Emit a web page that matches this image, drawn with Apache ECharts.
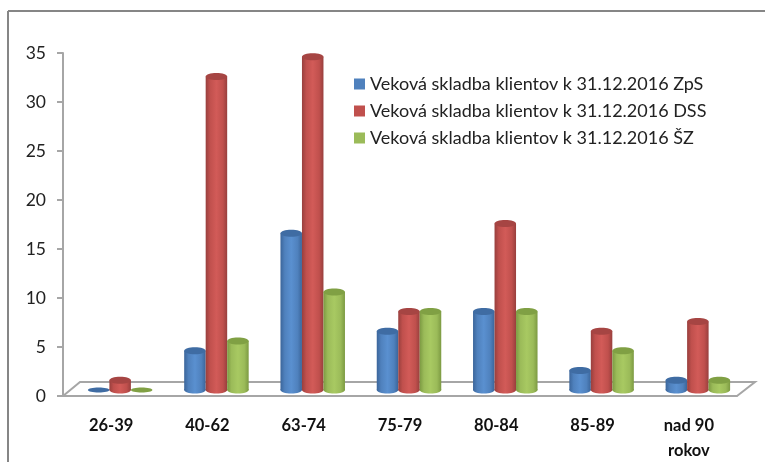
<!DOCTYPE html>
<html>
<head>
<meta charset="utf-8">
<style>
html, body { margin: 0; padding: 0; background: #fff; }
#chart { width: 765px; height: 462px; }
</style>
<script src="https://cdn.jsdelivr.net/npm/echarts@6/dist/echarts.min.js"></script>
</head>
<body>
<div id="chart"></div>
<script>
const categories = ['26-39', '40-62', '63-74', '75-79', '80-84', '85-89', 'nad 90\nrokov'];
const zps = [0, 4, 16, 6, 8, 2, 1];
const dss = [1, 32, 34, 8, 17, 6, 7];
const sz = [0, 5, 10, 8, 8, 4, 1];
const names = [
    'Veková skladba klientov k 31.12.2016 ZpS',
    'Veková skladba klientov k 31.12.2016 DSS',
    'Veková skladba klientov k 31.12.2016 ŠZ'
];
const colors = [
    { base: '#4f81bd', edge: '#3b659a', light: '#5a90d0', top: '#3f6ca3' },
    { base: '#c0504d', edge: '#983f3d', light: '#d25b58', top: '#a64543' },
    { base: '#9bbb59', edge: '#7c9a42', light: '#a8c962', top: '#80a044' }
];

const barW = 21.5;
const depthX = 9;
const depthY = 6;
const ry = 3.5;

function gradient(c) {
    return new echarts.graphic.LinearGradient(0, 0, 1, 0, [
        { offset: 0, color: c.edge },
        { offset: 0.2, color: c.base },
        { offset: 0.5, color: c.light },
        { offset: 0.8, color: c.base },
        { offset: 1, color: c.edge }
    ]);
}

function cylinder(idx) {
    return function (params, api) {
        const c = colors[idx];
        const top = api.coord([api.value(0), api.value(1)]);
        const base = api.coord([api.value(0), 0]);
        const cx = top[0] + depthX + (idx - 1) * barW;
        const topY = top[1] - depthY;
        const baseY = base[1] - depthY;
        const rx = barW / 2;
        const children = [];
        if (api.value(1) > 0) {
            children.push({
                type: 'ellipse',
                shape: { cx: cx, cy: baseY, rx: rx, ry: ry },
                style: { fill: gradient(c) }
            });
            children.push({
                type: 'rect',
                shape: { x: cx - rx, y: topY, width: barW, height: baseY - topY },
                style: { fill: gradient(c) }
            });
        }
        children.push({
            type: 'ellipse',
            shape: { cx: cx, cy: topY, rx: rx, ry: api.value(1) > 0 ? ry : 2.5 },
            style: { fill: c.top }
        });
        return { type: 'group', children: children };
    };
}

function makeSeries(name, values, idx) {
    return {
        name: name,
        type: 'custom',
        z: 5,
        itemStyle: { color: colors[idx].base },
        encode: { x: 0, y: 1 },
        data: values.map((v, i) => [i, v]),
        renderItem: cylinder(idx)
    };
}

const myChart = echarts.init(document.getElementById('chart'));
const option = {
    animation: false,
    backgroundColor: '#ffffff',
    grid: { left: 63, right: 28, top: 53, bottom: 66, outerBoundsMode: 'none' },
    legend: {
        orient: 'vertical',
        left: 354,
        top: 73,
        padding: 0,
        itemWidth: 11,
        itemHeight: 11,
        itemGap: 5,
        icon: 'rect',
        textStyle: { fontFamily: 'Lato', fontSize: 18, color: '#222', lineHeight: 22 },
        data: names
    },
    xAxis: {
        type: 'category',
        data: categories,
        axisLine: { lineStyle: { color: '#a6a6a6', width: 2 } },
        axisTick: { length: 6, lineStyle: { color: '#a6a6a6', width: 2 } },
        axisLabel: {
            color: '#111',
            fontFamily: 'Lato',
            fontWeight: 'bold',
            fontSize: 16.5,
            lineHeight: 25,
            margin: 17
        }
    },
    yAxis: {
        type: 'value',
        min: 0,
        max: 35,
        interval: 5,
        splitLine: { show: false },
        axisLine: { show: true, lineStyle: { color: '#a6a6a6', width: 2 } },
        axisTick: { show: true, length: 6, lineStyle: { color: '#a6a6a6', width: 2 } },
        axisLabel: { color: '#222', fontFamily: 'Lato', fontSize: 17.5, margin: 17 }
    },
    graphic: [
        // outer frame of the pasted chart
        { type: 'line', z: 0, shape: { x1: 8, y1: 11, x2: 8, y2: 462 }, style: { stroke: '#868686', lineWidth: 2 } },
        { type: 'line', z: 0, shape: { x1: 8, y1: 11, x2: 765, y2: 11 }, style: { stroke: '#868686', lineWidth: 2 } },
        // floor of the 3d plot
        {
            type: 'polyline',
            z: 1,
            shape: { points: [[63, 396], [80, 382], [755, 382], [737, 396]] },
            style: { stroke: '#a6a6a6', lineWidth: 2, fill: 'none' }
        }
    ],
    series: [
        makeSeries(names[0], zps, 0),
        makeSeries(names[1], dss, 1),
        makeSeries(names[2], sz, 2)
    ]
};
myChart.setOption(option);
</script>
</body>
</html>
